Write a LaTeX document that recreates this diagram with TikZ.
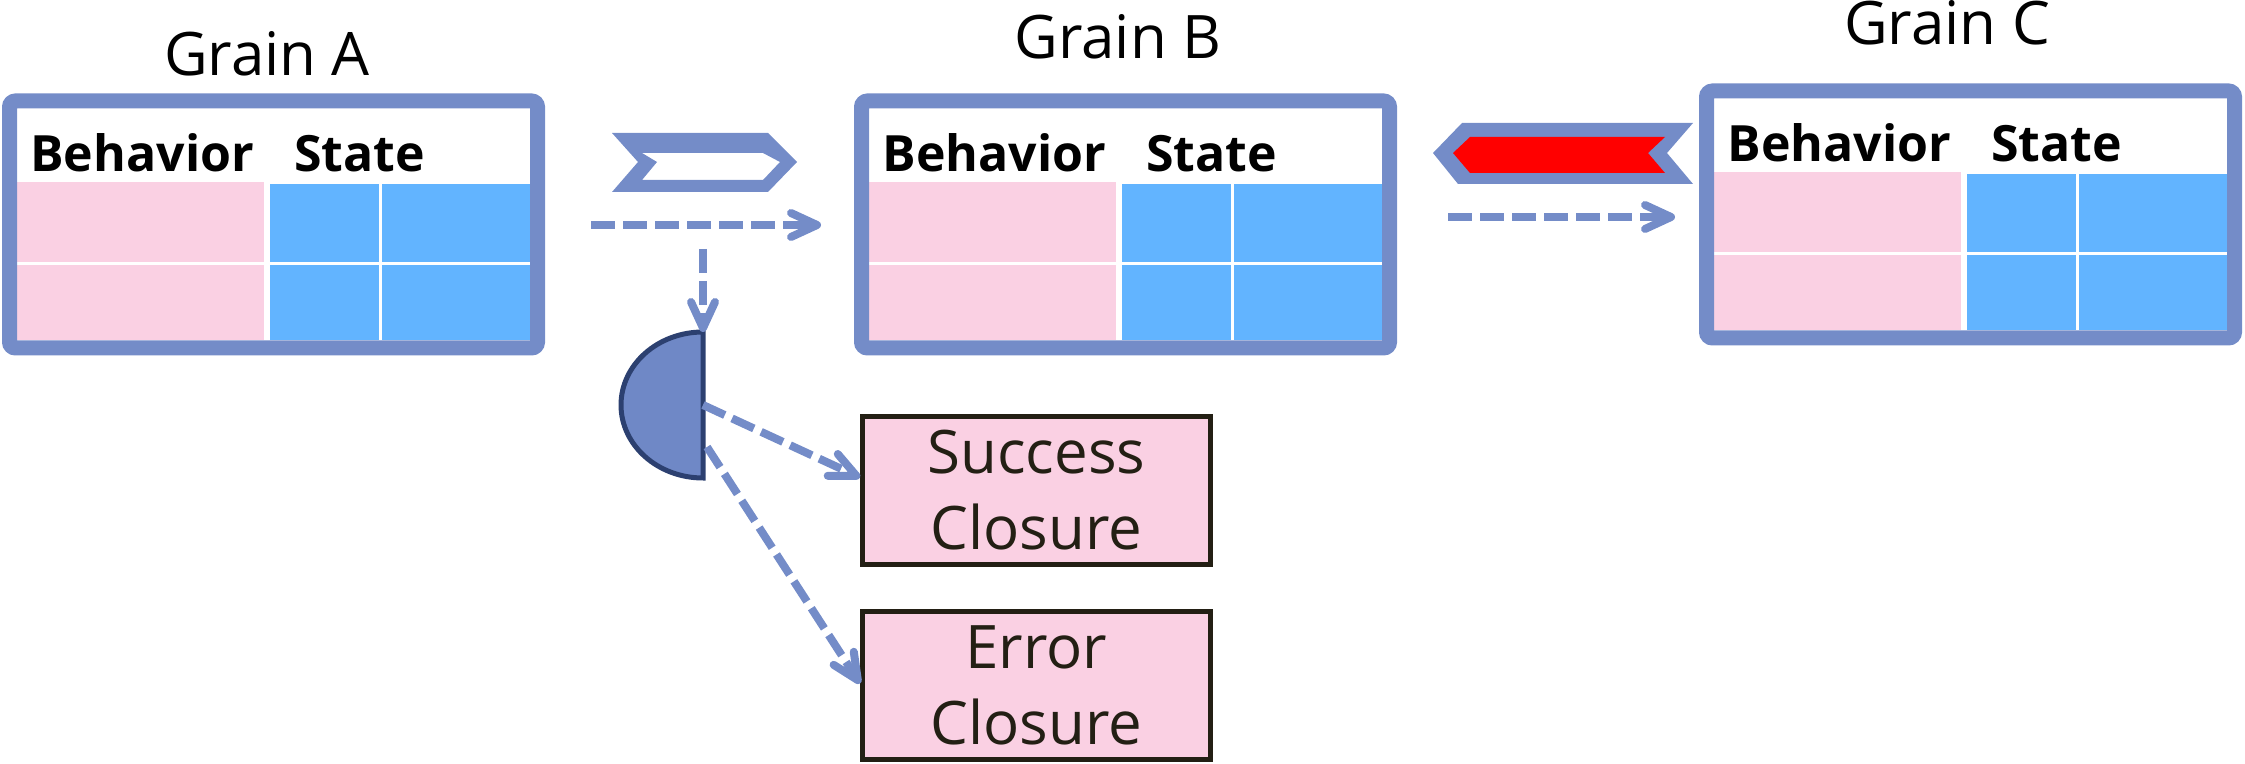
\documentclass[tikz,border=0pt]{standalone}
\usepackage{fontspec}
\setmainfont{Open Sans}
\usetikzlibrary{arrows.meta,positioning}

\definecolor{frameblue}{RGB}{116,140,200}
\definecolor{cellpink}{RGB}{250,208,227}
\definecolor{cellblue}{RGB}{98,180,255}
\definecolor{gatefill}{RGB}{111,136,198}
\definecolor{gateline}{RGB}{44,64,112}
\definecolor{boxline}{RGB}{35,31,20}

\tikzstyle{grainframe} = [draw=frameblue, line width=7.5pt, rounded corners=3pt,
                          minimum width=264pt, minimum height=123.5pt, inner sep=0pt]
\tikzstyle{graintitle} = [anchor=base, inner sep=0pt, font=\fontsize{30}{36}\selectfont]
\tikzstyle{head}       = [anchor=base west, inner sep=0pt, font=\fontsize{25}{29}\selectfont\bfseries]
\tikzstyle{cellrule}   = [draw=white, line width=1.5pt]
\tikzstyle{closure}    = [draw=boxline, line width=2.5pt, fill=cellpink, text=boxline,
                          minimum width=174pt, minimum height=74pt, align=center,
                          font=\fontsize{30}{38}\selectfont]
\tikzstyle{flow}       = [draw=frameblue, line width=4pt, dash pattern=on 12pt off 4pt,
                          -{Straight Barb[length=13pt, width=12pt, round]}]
\tikzstyle{gate}       = [draw=gateline, fill=gatefill, line width=2.5pt]

\begin{document}
\begin{tikzpicture}[x=0.5pt, y=-0.5pt]
  \useasboundingbox (0,0) rectangle (2245,764);

  % titles
  \node[graintitle] (titleA) at (267,76) {Grain A};
  \node[graintitle] (titleB) at (1118,59) {Grain B};
  \node[graintitle] (titleC) at (1947,45) {Grain C};

  % grain A
  \begin{scope}[shift={(2,94)}]
    \fill[cellpink] (15,88) rectangle (262,246);
    \fill[cellblue] (268,90) rectangle (528,246);
    \draw[cellrule] (15,170) -- (528,170) (378,90) -- (378,246);
    \node[grainframe] (frameA) at (271.5,130.5) {};
    \node[head] (behavA) at (28,78) {Behavior};
    \node[head] (stateA) at (292,78) {State};
  \end{scope}

  % grain B
  \begin{scope}[shift={(854,94)}]
    \fill[cellpink] (15,88) rectangle (262,246);
    \fill[cellblue] (268,90) rectangle (528,246);
    \draw[cellrule] (15,170) -- (528,170) (378,90) -- (378,246);
    \node[grainframe] (frameB) at (271.5,130.5) {};
    \node[head] (behavB) at (28,78) {Behavior};
    \node[head] (stateB) at (292,78) {State};
  \end{scope}

  % grain C
  \begin{scope}[shift={(1699,84)}]
    \fill[cellpink] (15,88) rectangle (262,246);
    \fill[cellblue] (268,90) rectangle (528,246);
    \draw[cellrule] (15,170) -- (528,170) (378,90) -- (378,246);
    \node[grainframe] (frameC) at (271.5,130.5) {};
    \node[head] (behavC) at (28,78) {Behavior};
    \node[head] (stateC) at (292,78) {State};
  \end{scope}

  % message chevrons
  \fill[frameblue, even odd rule]
    (612,133) -- (768,133) -- (797,162) -- (768,192) -- (612,192) -- (638,162) -- cycle
    (642,153) -- (763,153) -- (780,162) -- (763,180) -- (642,180) -- (657,162) -- cycle;
  \fill[frameblue]
    (1433,153) -- (1462,123) -- (1693,123) -- (1667,153) -- (1693,184) -- (1458,184) -- cycle;
  \fill[red]
    (1453,153) -- (1470,137) -- (1665,137) -- (1648,153) -- (1665,173) -- (1470,173) -- cycle;

  % promise
  \draw[gate] (703,332) arc[start angle=90, end angle=270, x radius=41pt, y radius=36.5pt] -- cycle;
  \coordinate (gatetop) at (703,332);
  \coordinate (gate) at (703,405);
  \coordinate (gatelow) at (707,447);

  \node[closure] (success) at (1036.5,490.5) {Success\\Closure};
  \node[closure] (error) at (1036.5,685.5) {Error\\Closure};

  % calls
  \coordinate (callA) at (591,225);
  \coordinate (callB) at (821,225);
  \coordinate (callC) at (1448,217);
  \coordinate (callD) at (1675,217);
  \coordinate (tap) at (703,249);

  \draw[flow] (callA) -- (callB);
  \draw[flow] (callC) -- (callD);
  \draw[flow] (tap) -- (gatetop);
  \draw[flow] (gate) -- ([yshift=6.5pt]success.west);
  \draw[flow] (gatelow) -- ([yshift=1pt]error.west);
\end{tikzpicture}
\end{document}
